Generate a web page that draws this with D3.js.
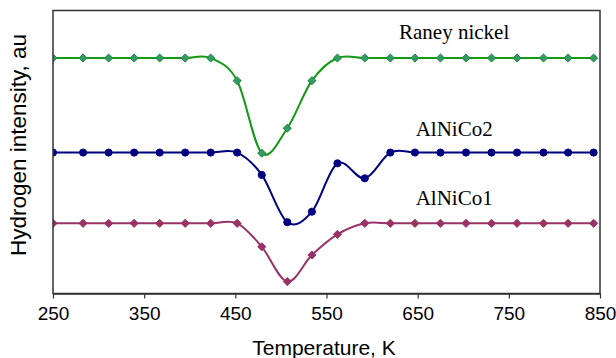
<!DOCTYPE html>
<html>
<head>
<meta charset="utf-8">
<script src="https://cdn.jsdelivr.net/npm/d3@7"></script>
<style>
  body { margin: 0; background: #fff; }
  svg { display: block; }
</style>
</head>
<body>
<script>
// temperature steps (K) shared by all three runs
var temps = [250, 283, 311, 339, 367, 395, 423, 452, 479, 507, 534, 562,
             592, 620, 647, 675, 703, 731, 759, 788, 815, 843];

// hydrogen signal, arbitrary units (curves are offset from each other)
var raney  = [83.2, 83.2, 83.2, 83.2, 83.2, 83.2, 83.2, 75.2, 49.6, 58.4, 75.2, 83.2,
              83.2, 83.2, 83.2, 83.2, 83.2, 83.2, 83.2, 83.2, 83.2, 83.2];
var alnico2 = [49.8, 49.8, 49.8, 49.8, 49.8, 49.8, 49.8, 49.8, 41.9, 25.2, 28.9, 46.0,
               40.7, 49.8, 49.8, 49.8, 49.8, 49.8, 49.8, 49.8, 49.8, 49.8];
var alnico1 = [24.8, 24.8, 24.8, 24.8, 24.8, 24.8, 24.8, 24.8, 16.5, 4.2, 13.6, 20.9,
               24.8, 24.8, 24.8, 24.8, 24.8, 24.8, 24.8, 24.8, 24.8, 24.8];

var seriesNames = ["Raney nickel", "AlNiCo2", "AlNiCo1"];
var xTicks = [250, 350, 450, 550, 650, 750, 850];

var width = 616, height = 358;
var margin = {left: 53, top: 10.5, right: 16, bottom: 64.5};
var plotW = width - margin.left - margin.right;
var plotH = height - margin.top - margin.bottom;

var svg = d3.select("body").append("svg")
  .attr("width", width)
  .attr("height", height);

var x = d3.scaleLinear().domain([250, 850]).range([margin.left, margin.left + plotW]);
var y = d3.scaleLinear().domain([0, 100]).range([margin.top + plotH, margin.top]);

svg.append("clipPath").attr("id", "plotclip")
  .append("rect")
  .attr("x", margin.left).attr("y", margin.top)
  .attr("width", plotW).attr("height", plotH);

var diamond = d3.symbolDiamond2 || d3.symbolDiamond;
var series = [
  {name: seriesNames[0], values: raney,   line: "#139a13", fill: "#339966", stroke: "#1f8a3a", shape: diamond, size: 42},
  {name: seriesNames[1], values: alnico2, line: "#000080", fill: "#000080", stroke: "#000080", shape: d3.symbolCircle, size: 40},
  {name: seriesNames[2], values: alnico1, line: "#993366", fill: "#993366", stroke: "#993366", shape: diamond, size: 42}
];

var lineGen = d3.line()
  .x(function(d){ return x(d[0]); })
  .y(function(d){ return y(d[1]); })
  .curve(d3.curveCatmullRom.alpha(0));

var plot = svg.append("g").attr("clip-path", "url(#plotclip)");

series.forEach(function(s){
  var pts = temps.map(function(t, i){ return [t, s.values[i]]; });
  plot.append("path")
    .datum(pts)
    .attr("d", lineGen)
    .attr("fill", "none")
    .attr("stroke", s.line)
    .attr("stroke-width", 2);
  plot.append("g").selectAll("path")
    .data(pts)
    .enter().append("path")
    .attr("transform", function(d){ return "translate(" + x(d[0]) + "," + y(d[1]) + ")"; })
    .attr("d", d3.symbol().type(s.shape).size(s.size))
    .attr("fill", s.fill)
    .attr("stroke", s.stroke)
    .attr("stroke-width", 1);
});

// frame
svg.append("rect")
  .attr("x", margin.left).attr("y", margin.top)
  .attr("width", plotW).attr("height", plotH)
  .attr("fill", "none")
  .attr("stroke", "#333")
  .attr("stroke-width", 1.5);

// x axis
var xAxis = svg.append("g")
  .attr("transform", "translate(0," + (margin.top + plotH) + ")")
  .call(d3.axisBottom(x).tickValues(xTicks).tickSize(5).tickSizeOuter(0).tickPadding(8));
xAxis.select(".domain").attr("stroke", "#333").attr("stroke-width", 1.5);
xAxis.selectAll(".tick line").attr("stroke", "#333").attr("stroke-width", 1.2);
xAxis.selectAll(".tick text")
  .attr("font-family", "Liberation Sans, Arial, sans-serif")
  .attr("font-size", 19)
  .attr("fill", "#000");

svg.append("text")
  .attr("x", 324).attr("y", 355)
  .attr("text-anchor", "middle")
  .attr("font-family", "Liberation Sans, Arial, sans-serif")
  .attr("font-size", 21)
  .text("Temperature, K");

svg.append("text")
  .attr("transform", "translate(26,145) rotate(-90)")
  .attr("text-anchor", "middle")
  .attr("font-family", "Liberation Sans, Arial, sans-serif")
  .attr("font-size", 22.5)
  .text("Hydrogen intensity, au");

// curve labels
var labelY = [39, 136, 205];
series.forEach(function(s, i){
  svg.append("text")
    .attr("x", x(690)).attr("y", labelY[i])
    .attr("text-anchor", "middle")
    .attr("font-family", "Liberation Serif, Times New Roman, serif")
    .attr("font-size", 21)
    .attr("fill", "#000")
    .text(s.name);
});
</script>
</body>
</html>
